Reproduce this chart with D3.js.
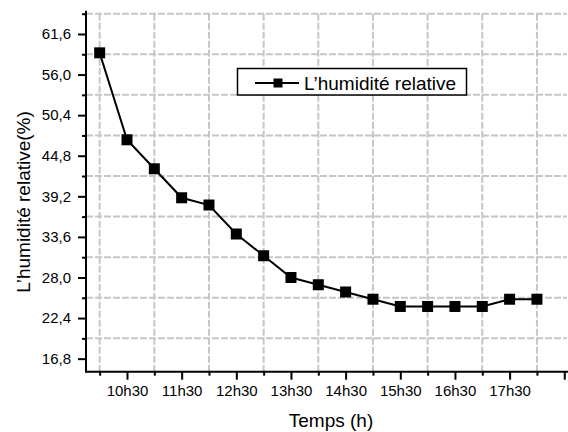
<!DOCTYPE html>
<html><head><meta charset="utf-8">
<script src="https://cdn.jsdelivr.net/npm/d3@7"></script>
<style>body{margin:0;background:#fff}svg{display:block}text{font-family:"Liberation Sans",Arial,sans-serif;fill:#000}</style>
</head><body><svg id="c" width="568" height="432"></svg>
<script>
// Time in hours (half-hour steps from 10h00 to 18h00)
const hours = [10, 10.5, 11, 11.5, 12, 12.5, 13, 13.5, 14, 14.5, 15, 15.5, 16, 16.5, 17, 17.5, 18];
const humidity = [59, 47, 43, 39, 38, 34, 31, 28, 27, 26, 25, 24, 24, 24, 24, 25, 25];
const xTickValues = [10.5, 11.5, 12.5, 13.5, 14.5, 15.5, 16.5, 17.5, 18.5];
const xTickLabels = ["10h30", "11h30", "12h30", "13h30", "14h30", "15h30", "16h30", "17h30", ""];
const xMinorValues = [10, 11, 12, 13, 14, 15, 16, 17, 18];
const yTickValues = [16.8, 22.4, 28.0, 33.6, 39.2, 44.8, 50.4, 56.0, 61.6];
const yTickLabels = ["16,8", "22,4", "28,0", "33,6", "39,2", "44,8", "50,4", "56,0", "61,6"];
const yMinorValues = [19.6, 25.2, 30.8, 36.4, 42.0, 47.6, 53.2, 58.8, 64.4];
const seriesName = "L\u2019humidité relative";
const xTitle = "Temps (h)";
const yTitle = "L\u2019humidité relative(%)";

const svg = d3.select("#c");
const L = 86, R = 567, T = 13.7, B = 371.7;
const x = d3.scaleLinear().domain([9.75, 18.55]).range([L, R]);
const y = d3.scaleLinear().domain([15, 64.4]).range([B, T]);

// grid
const grid = svg.append("g").attr("stroke", "#c6c6c6").attr("stroke-width", 2).attr("stroke-dasharray", "7,2");
grid.selectAll("line.v").data(xMinorValues).join("line")
  .attr("x1", d => x(d)).attr("x2", d => x(d)).attr("y1", T).attr("y2", B);
grid.selectAll("line.h").data(yMinorValues).join("line")
  .attr("x1", L).attr("x2", R).attr("y1", d => y(d)).attr("y2", d => y(d));

// axes
const xAxis = svg.append("g").attr("transform", `translate(0,${B})`)
  .call(d3.axisBottom(x).tickValues(xTickValues).tickFormat((d, i) => xTickLabels[i]).tickSize(8).tickPadding(6));
const xMinor = svg.append("g").attr("transform", `translate(0,${B})`)
  .call(d3.axisBottom(x).tickValues(xMinorValues).tickFormat("").tickSize(4));
const yAxis = svg.append("g").attr("transform", `translate(${L},0)`)
  .call(d3.axisLeft(y).tickValues(yTickValues).tickFormat((d, i) => yTickLabels[i]).tickSize(8).tickPadding(7));
const yMinor = svg.append("g").attr("transform", `translate(${L},0)`)
  .call(d3.axisLeft(y).tickValues(yMinorValues).tickFormat("").tickSize(4));
[xAxis, xMinor, yAxis, yMinor].forEach(g => {
  g.select(".domain").remove();
  g.selectAll(".tick line").attr("stroke", "#000").attr("stroke-width", 2);
  g.selectAll("text").attr("font-size", 15).attr("font-family", "Liberation Sans, Arial, sans-serif").attr("fill", "#000");
});
svg.append("line").attr("x1", L).attr("x2", R + 1).attr("y1", B).attr("y2", B).attr("stroke", "#000").attr("stroke-width", 2);
svg.append("line").attr("x1", L).attr("x2", L).attr("y1", T - 3).attr("y2", B + 1).attr("stroke", "#000").attr("stroke-width", 2);

// line + markers
const pts = hours.map((h, i) => [h, humidity[i]]);
svg.append("path").datum(pts)
  .attr("fill", "none").attr("stroke", "#000").attr("stroke-width", 2)
  .attr("d", d3.line().x(d => x(d[0])).y(d => y(d[1])));
const ms = 11;
svg.selectAll("rect.m").data(pts).join("rect")
  .attr("x", d => x(d[0]) - ms / 2).attr("y", d => y(d[1]) - ms / 2)
  .attr("width", ms).attr("height", ms).attr("fill", "#000");

// legend
const lg = svg.append("g");
lg.append("rect").attr("x", 237.5).attr("y", 68.5).attr("width", 229).attr("height", 26.5)
  .attr("fill", "#fff").attr("stroke", "#000").attr("stroke-width", 1.5);
lg.append("line").attr("x1", 255).attr("x2", 299).attr("y1", 83).attr("y2", 83).attr("stroke", "#000").attr("stroke-width", 2);
lg.append("rect").attr("x", 273.5).attr("y", 78.5).attr("width", 9).attr("height", 9).attr("fill", "#000");
lg.append("text").attr("x", 304).attr("y", 90).attr("font-size", 19).text(seriesName);

// titles
svg.append("text").attr("x", 331).attr("y", 427).attr("text-anchor", "middle").attr("font-size", 19).text(xTitle);
svg.append("text").attr("transform", "translate(30,202) rotate(-90)").attr("text-anchor", "middle").attr("font-size", 19).text(yTitle);
</script></body></html>
